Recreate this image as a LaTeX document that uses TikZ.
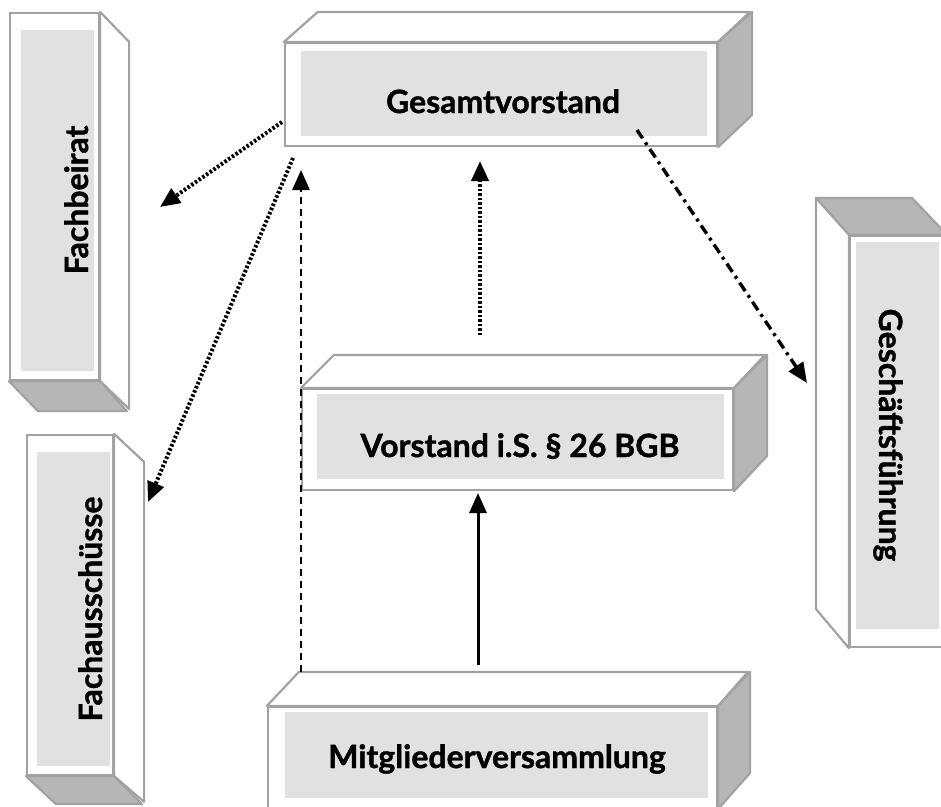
\documentclass[tikz,border=0pt]{standalone}
\usepackage{fontspec}
\setmainfont{Lato}[BoldFeatures={FakeBold=1.2}]
\usepackage{tikz}
\usetikzlibrary{arrows.meta}
\definecolor{rimgray}{HTML}{A2A2A2}
\definecolor{sidegray}{HTML}{B6B6B6}
\definecolor{panelgray}{HTML}{E1E1E1}

\begin{document}
\begin{tikzpicture}[x=1pt, y=-1pt,
    front/.style = {draw=rimgray, line width=2.2pt, fill=white, inner sep=0pt},
    rim/.style = {draw=rimgray, line width=2.2pt, line join=round},
    panel/.style = {fill=panelgray},
    caption/.style = {font=\fontsize{32}{38}\selectfont\bfseries, inner sep=0pt, anchor=base},
    link/.style = {line width=3pt, -{Triangle[length=20pt,width=17pt]}},
    dots/.style = {link, line width=4pt, dash pattern=on 2.5pt off 2pt},
    dashes/.style = {link, line width=2.8pt, dash pattern=on 7pt off 5pt},
    dashdot/.style = {link, line width=3.4pt, dash pattern=on 10pt off 5pt on 3pt off 5pt}]
        \useasboundingbox (0,0) rectangle (941,806);

        % Gesamtvorstand
        \node[front, minimum width=432pt, minimum height=103pt] (gesamt) at (501,94.5) {};
        \draw[rim, fill=white] (gesamt.north west) -- ++(34,-30) -- ++(432,0) -- (gesamt.north east) -- cycle;
        \draw[rim, fill=sidegray] (gesamt.north east) -- ++(34,-30) -- ++(0,103) -- (gesamt.south east) -- cycle;
        \fill[panel] ([shift={(17,9)}]gesamt.north west) rectangle ([shift={(-11,-11)}]gesamt.south east);
        \node[caption] (gesamttext) at (503,113) {Gesamtvorstand};

        % Vorstand i.S. 26 BGB
        \node[front, minimum width=431pt, minimum height=101pt] (vorstand) at (517.5,439.5) {};
        \draw[rim, fill=white] (vorstand.north west) -- ++(33,-33) -- ++(431,0) -- (vorstand.north east) -- cycle;
        \draw[rim, fill=sidegray] (vorstand.north east) -- ++(33,-33) -- ++(0,101) -- (vorstand.south east) -- cycle;
        \fill[panel] ([shift={(16,6)}]vorstand.north west) rectangle ([shift={(-10,-12)}]vorstand.south east);
        \node[caption] (vorstandtext) at (520,457) {Vorstand i.S. § 26 BGB};

        % Mitgliederversammlung
        \node[front, minimum width=449pt, minimum height=101pt] (mitglieder) at (492.5,757.5) {};
        \draw[rim, fill=white] (mitglieder.north west) -- ++(32,-34) -- ++(449,0) -- (mitglieder.north east) -- cycle;
        \draw[rim, fill=sidegray] (mitglieder.north east) -- ++(32,-34) -- ++(0,101) -- (mitglieder.south east) -- cycle;
        \fill[panel] ([shift={(18,6)}]mitglieder.north west) rectangle ([shift={(-10,-11)}]mitglieder.south east);
        \node[caption] (mitgliedertext) at (497,768) {Mitgliederversammlung};

        % Fachbeirat
        \node[front, minimum width=89pt, minimum height=367pt] (beirat) at (54.5,196.5) {};
        \draw[rim, fill=white] (beirat.north east) -- ++(29,30) -- ++(0,367) -- (beirat.south east) -- cycle;
        \draw[rim, fill=sidegray] (beirat.south west) -- ++(29,30) -- ++(89,0) -- (beirat.south east) -- cycle;
        \fill[panel] ([shift={(12,18)}]beirat.north west) rectangle ([shift={(-6,-10)}]beirat.south east);
        \node[caption, rotate=90] (beirattext) at (88,200) {Fachbeirat};

        % Fachausschuesse
        \node[front, minimum width=86pt, minimum height=340pt] (ausschuss) at (70,605) {};
        \draw[rim, fill=white] (ausschuss.north east) -- ++(30,28) -- ++(0,340) -- (ausschuss.south east) -- cycle;
        \draw[rim, fill=sidegray] (ausschuss.south west) -- ++(30,28) -- ++(86,0) -- (ausschuss.south east) -- cycle;
        \fill[panel] ([shift={(11,18)}]ausschuss.north west) rectangle ([shift={(-4,-10)}]ausschuss.south east);
        \node[caption, rotate=90] (ausschusstext) at (102,609) {Fachausschüsse};

        % Geschaeftsfuehrung
        \node[front, minimum width=96pt, minimum height=411pt] (leitung) at (898,441.5) {};
        \draw[rim, fill=sidegray] (leitung.north west) -- ++(-33,-37) -- ++(96,0) -- (leitung.north east) -- cycle;
        \draw[rim, fill=white] (leitung.north west) -- ++(-33,-37) -- ++(0,411) -- (leitung.south west) -- cycle;
        \fill[panel] ([shift={(7,7)}]leitung.north west) rectangle ([shift={(-8,-19)}]leitung.south east);
        \node[caption, rotate=-90] (leitungtext) at (879,435) {Geschäftsführung};

        % connector ends
        \coordinate (g-beirat) at (282,122);
        \coordinate (beirat-in) at (160,207);
        \coordinate (g-ausschuss) at (293,158);
        \coordinate (ausschuss-in) at (148,502);
        \coordinate (m-gesamt) at (301,672);
        \coordinate (gesamt-in) at (301,170);
        \coordinate (v-gesamt) at (480,335);
        \coordinate (gesamt-mid) at (480,161);
        \coordinate (m-vorstand) at (478,665);
        \coordinate (vorstand-in) at (478,493);
        \coordinate (g-leitung) at (637,130);
        \coordinate (leitung-in) at (807,383);

        \draw[dots] (g-beirat) -- (beirat-in);
        \draw[dots] (g-ausschuss) -- (ausschuss-in);
        \draw[dashes] (m-gesamt) -- (gesamt-in);
        \draw[dots] (v-gesamt) -- (gesamt-mid);
        \draw[link] (m-vorstand) -- (vorstand-in); % elected by members
        \draw[dashdot] (g-leitung) -- (leitung-in);
\end{tikzpicture}
\end{document}
